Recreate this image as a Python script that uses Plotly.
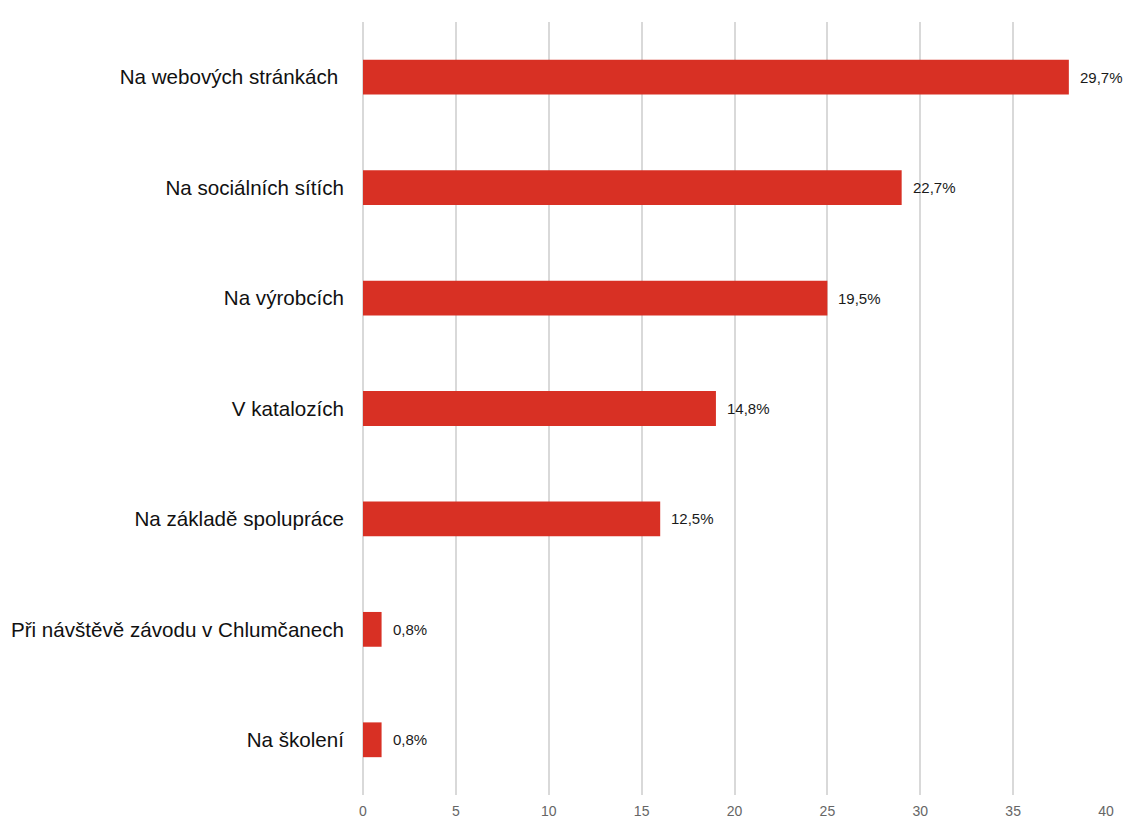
import plotly.graph_objects as go

# Survey answers: where respondents found information (number of mentions)
categories = [
    "Na webových stránkách\u00a0",
    "Na sociálních sítích",
    "Na výrobcích",
    "V katalozích",
    "Na základě spolupráce",
    "Při návštěvě závodu v Chlumčanech",
    "Na školení",
]
counts = [38, 29, 25, 19, 16, 1, 1]
respondents = 128
x_ticks = [0, 5, 10, 15, 20, 25, 30, 35, 40]

# Share of respondents (multiple answers allowed)
percents = [c / respondents * 100 for c in counts]
labels = [f"{p:.1f}".replace(".", ",") + "%" for p in percents]

BAR_COLOR = "#d83024"
FONT = "Liberation Sans, Arial, sans-serif"

fig = go.Figure(
    go.Bar(
        x=counts,
        y=categories,
        orientation="h",
        marker=dict(color=BAR_COLOR, line=dict(width=0)),
        hoverinfo="skip",
    )
)

# Percentage labels to the right of each bar
for cat, val, lab in zip(categories, counts, labels):
    fig.add_annotation(
        x=val, y=cat, text=lab, showarrow=False,
        xanchor="left", yanchor="middle", xshift=9,
        font=dict(family=FONT, size=15, color="#1a1a1a"),
    )

fig.update_layout(
    width=1127,
    height=819,
    margin=dict(l=363, r=21, t=22, b=24),
    paper_bgcolor="white",
    plot_bgcolor="white",
    showlegend=False,
    bargap=0.685,
    font=dict(family=FONT),
    xaxis=dict(
        range=[0, 40],
        tickvals=x_ticks,
        ticktext=[str(t) for t in x_ticks],
        showgrid=True,
        gridcolor="#d9d9d9",
        gridwidth=1.5,
        zeroline=True,
        zerolinecolor="#d9d9d9",
        zerolinewidth=1.5,
        showline=False,
        ticks="",
        ticklabelstandoff=6,
        tickfont=dict(family=FONT, size=14, color="#666666"),
        automargin=False,
        fixedrange=True,
    ),
    yaxis=dict(
        autorange="reversed",
        showgrid=False,
        zeroline=False,
        showline=False,
        ticks="",
        ticklabelstandoff=18,
        tickfont=dict(family=FONT, size=20.6, color="#111111"),
        automargin=False,
        fixedrange=True,
    ),
)

fig.write_html("out.html", config={"displayModeBar": False})
